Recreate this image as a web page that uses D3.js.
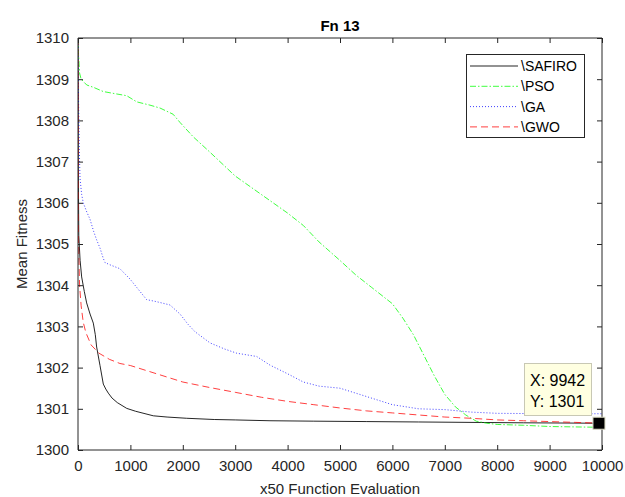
<!DOCTYPE html>
<html><head><meta charset="utf-8">
<script src="https://cdn.jsdelivr.net/npm/d3@7"></script>
<style>body{margin:0;background:#fff;}svg{display:block;font-family:"Liberation Sans",Arial,sans-serif;}</style>
</head><body>
<svg id="c" width="625" height="497"></svg>
<script>
const title = "Fn 13";
const xLabel = "x50 Function Evaluation";
const yLabel = "Mean Fitness";
const xTicks = [0,1000,2000,3000,4000,5000,6000,7000,8000,9000,10000];
const yTicks = [1300,1301,1302,1303,1304,1305,1306,1307,1308,1309,1310];
const seriesNames = ["\\SAFIRO","\\PSO","\\GA","\\GWO"];

const safiroX = [0,5,15,40,70,120,165,230,292,330,356,420,483,530,579,650,750,930,1100,1437,1700,2074,2600,3000,3664,4500,5500,6500,7500,8500,9942,10000];
const safiroY = [1310,1307,1305.2,1304.6,1304.2,1303.85,1303.57,1303.3,1303.08,1302.8,1302.5,1302.05,1301.6,1301.48,1301.38,1301.26,1301.15,1301.01,1300.94,1300.83,1300.8,1300.77,1300.74,1300.73,1300.71,1300.70,1300.69,1300.68,1300.67,1300.66,1300.65,1300.65];

const psoX = [0,10,30,60,166,300,483,700,929,1120,1374,1565,1815,1947,2200,2500,3000,3500,4000,4300,4600,5000,5300,5600,6000,6200,6400,6600,6800,7000,7200,7400,7600,7800,8000,8500,9000,10000];
const psoY = [1310,1309.6,1309.15,1309.0,1308.86,1308.8,1308.7,1308.65,1308.6,1308.45,1308.37,1308.3,1308.15,1307.95,1307.6,1307.25,1306.65,1306.2,1305.75,1305.45,1305.05,1304.6,1304.25,1303.95,1303.55,1303.2,1302.8,1302.3,1301.8,1301.35,1301.05,1300.85,1300.7,1300.65,1300.62,1300.6,1300.57,1300.55];

const gaX = [0,10,25,38,70,101,160,229,300,356,420,483,515,600,800,992,1150,1310,1500,1756,1947,2100,2233,2519,2800,3028,3410,3664,4000,4300,4600,5000,5500,6000,6500,7000,7500,8000,9000,10000];
const gaY = [1310,1308.5,1307.3,1306.6,1306.2,1306.0,1305.8,1305.6,1305.3,1305.1,1304.9,1304.65,1304.55,1304.5,1304.4,1304.15,1303.9,1303.65,1303.6,1303.52,1303.3,1303.05,1302.87,1302.6,1302.45,1302.35,1302.27,1302.06,1301.85,1301.65,1301.55,1301.5,1301.3,1301.1,1301.0,1300.98,1300.92,1300.89,1300.88,1300.88];

const gwoX = [0,10,30,60,100,150,250,400,600,800,1000,1500,2000,2500,3000,3500,4000,4500,5000,5500,6000,6500,7000,7500,8000,8500,9000,9500,10000];
const gwoY = [1310,1305,1304,1303.5,1303.1,1302.85,1302.55,1302.35,1302.2,1302.1,1302.05,1301.85,1301.65,1301.52,1301.4,1301.28,1301.18,1301.1,1301.02,1300.95,1300.9,1300.85,1300.8,1300.77,1300.73,1300.71,1300.69,1300.67,1300.65];

const tipX = 9942, tipY = 1300.65;
const tipText = ["X: 9942","Y: 1301"];

const margin = {left:78, right:23, top:38, bottom:47};
const W = 625, H = 497;
const svg = d3.select("#c");
const x = d3.scaleLinear().domain([0,10000]).range([margin.left, W-margin.right]);
const y = d3.scaleLinear().domain([1300,1310]).range([H-margin.bottom, margin.top]);
const axisColor = "#262626";

svg.append("defs").append("clipPath").attr("id","clip").append("rect")
  .attr("x",x(0)).attr("y",y(1310)).attr("width",x(10000)-x(0)).attr("height",y(1300)-y(1310));

const series = [
  {name:seriesNames[0], xs:safiroX, ys:safiroY, color:"#000000", dash:null, w:1},
  {name:seriesNames[1], xs:psoX, ys:psoY, color:"#00ff00", dash:"6,2,1.5,2", w:1},
  {name:seriesNames[2], xs:gaX, ys:gaY, color:"#0000ff", dash:"1,2", w:1},
  {name:seriesNames[3], xs:gwoX, ys:gwoY, color:"#ff0000", dash:"7,4", w:1}
];

const line = d3.line().x(d=>x(d[0])).y(d=>y(d[1]));
const g = svg.append("g").attr("clip-path","url(#clip)");
// draw order: SAFIRO, PSO, GA, GWO
series.forEach(s=>{
  const pts = s.xs.map((v,i)=>[v,s.ys[i]]);
  g.append("path").attr("d",line(pts)).attr("fill","none")
   .attr("stroke",s.color).attr("stroke-width",s.w)
   .attr("stroke-dasharray",s.dash).attr("opacity", s.color==="#000000"?0.85:0.75);
});

// axes
const tickLen = 5;
const xb = svg.append("g").attr("transform",`translate(0,${y(1300)})`)
  .call(d3.axisBottom(x).tickValues(xTicks).tickSize(-tickLen).tickPadding(10).tickFormat(d3.format("d")));
const xt = svg.append("g").attr("transform",`translate(0,${y(1310)})`)
  .call(d3.axisTop(x).tickValues(xTicks).tickSize(-tickLen).tickFormat(""));
const yl = svg.append("g").attr("transform",`translate(${x(0)},0)`)
  .call(d3.axisLeft(y).tickValues(yTicks).tickSize(-tickLen).tickPadding(9).tickFormat(d3.format("d")));
const yr = svg.append("g").attr("transform",`translate(${x(10000)},0)`)
  .call(d3.axisRight(y).tickValues(yTicks).tickSize(-tickLen).tickFormat(""));
[xb,xt,yl,yr].forEach(a=>{
  a.selectAll("path.domain").attr("stroke",axisColor).attr("stroke-width",1);
  a.selectAll(".tick line").attr("stroke",axisColor);
  a.selectAll(".tick text").attr("fill",axisColor).style("font-size","15px").style("font-family","'Liberation Sans',Arial,sans-serif");
});
xb.selectAll("path.domain").attr("d",`M${x(0)},0H${x(10000)}`);
xt.selectAll("path.domain").attr("d",`M${x(0)},0H${x(10000)}`);
yl.selectAll("path.domain").attr("d",`M0,${y(1300)}V${y(1310)}`);
yr.selectAll("path.domain").attr("d",`M0,${y(1300)}V${y(1310)}`);

// title & labels
svg.append("text").attr("x",(x(0)+x(10000))/2).attr("y",31).attr("text-anchor","middle")
  .style("font-size","15px").style("font-weight","bold").attr("fill","#000").text(title);
svg.append("text").attr("x",(x(0)+x(10000))/2).attr("y",494).attr("text-anchor","middle")
  .style("font-size","15px").attr("fill",axisColor).text(xLabel);
svg.append("text").attr("transform",`translate(27,${(y(1300)+y(1310))/2}) rotate(-90)`).attr("text-anchor","middle")
  .style("font-size","15px").attr("fill",axisColor).text(yLabel);

// legend
const lg = svg.append("g");
lg.append("rect").attr("x",466.5).attr("y",54.5).attr("width",118).attr("height",83)
  .attr("fill","#fff").attr("stroke",axisColor).attr("stroke-width",1);
series.forEach((s,i)=>{
  const yy = 66 + i*20.3;
  lg.append("line").attr("x1",470).attr("x2",518).attr("y1",yy).attr("y2",yy)
    .attr("stroke",s.color).attr("stroke-width",s.w).attr("stroke-dasharray",s.dash)
    .attr("opacity", s.color==="#000000"?0.85:0.75);
  lg.append("text").attr("x",521).attr("y",yy+5).style("font-size","14px").attr("fill","#000").text(s.name);
});

// data tip
const tx = x(tipX), ty = y(tipY);
svg.append("rect").attr("x",524.5).attr("y",363.5).attr("width",67).attr("height",52)
  .attr("fill","#ffffe1").attr("stroke","#c8c8b4").attr("stroke-width",1);
tipText.forEach((t,i)=>{
  svg.append("text").attr("x",530).attr("y",386+i*21).style("font-size","16px").attr("fill","#000").text(t);
});
svg.append("rect").attr("x",tx-6).attr("y",ty-6).attr("width",12).attr("height",12)
  .attr("fill","#000").attr("stroke","#d8d8c0").attr("stroke-width",1);
</script>
</body></html>
